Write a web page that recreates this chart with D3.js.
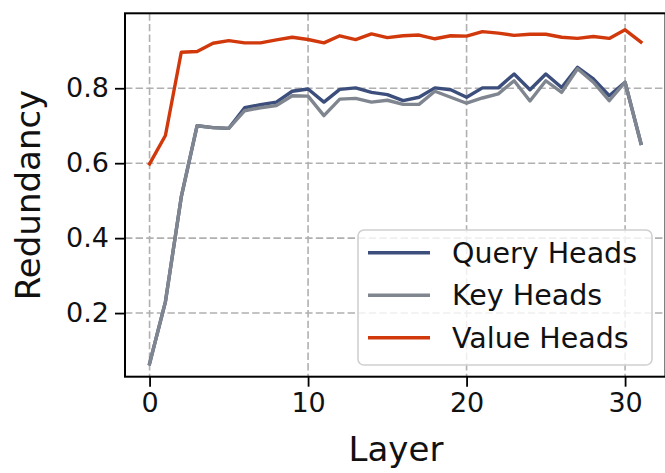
<!DOCTYPE html>
<html>
<head>
<meta charset="utf-8">
<script src="https://cdn.jsdelivr.net/npm/d3@7"></script>
<style>
  html, body { margin: 0; padding: 0; background: #fff; }
  svg { display: block; font-family: "DejaVu Sans", sans-serif; }
</style>
</head>
<body>
<svg id="chart" width="665" height="473"></svg>
<script>
// Per-layer redundancy of attention heads
const layers = d3.range(32);
const queryHeads = [0.065, 0.23, 0.51, 0.70, 0.695, 0.693, 0.748, 0.756, 0.763, 0.792, 0.798, 0.763, 0.797, 0.801, 0.789, 0.783,
                    0.767, 0.776, 0.801, 0.796, 0.776, 0.801, 0.801, 0.838, 0.796, 0.838, 0.802, 0.856, 0.825, 0.78, 0.816, 0.653];
const keyHeads   = [0.065, 0.23, 0.51, 0.70, 0.695, 0.693, 0.740, 0.748, 0.754, 0.780, 0.779, 0.727, 0.771, 0.773, 0.763, 0.768,
                    0.757, 0.757, 0.792, 0.776, 0.760, 0.774, 0.785, 0.820, 0.766, 0.820, 0.789, 0.852, 0.816, 0.767, 0.816, 0.653];
const valueHeads = [0.598, 0.674, 0.896, 0.898, 0.920, 0.927, 0.921, 0.921, 0.929, 0.936, 0.930, 0.921, 0.940, 0.930, 0.945, 0.935,
                    0.940, 0.942, 0.932, 0.940, 0.939, 0.951, 0.947, 0.941, 0.944, 0.944, 0.936, 0.933, 0.938, 0.933, 0.956, 0.923];
const seriesNames = ["Query Heads", "Key Heads", "Value Heads"];
const seriesColors = ["#3c4e7b", "#80868f", "#d1390c"];
const xTicks = [0, 10, 20, 30];
const yTicks = [0.2, 0.4, 0.6, 0.8];

const svg = d3.select("#chart");
const plotLeft = 125, plotRight = 665.5, plotTop = 13.3, plotBottom = 376.7;

const x = d3.scaleLinear().domain([-1.55, 32.55]).range([plotLeft, plotRight]);
const y = d3.scaleLinear().domain([0.0302, 1.0]).range([plotBottom, plotTop]);

// grid
const grid = svg.append("g").attr("stroke", "#b0b0b0").attr("stroke-width", 1.6)
  .attr("stroke-dasharray", "7.4,3.2");
grid.selectAll(".gx").data(xTicks).join("line")
  .attr("x1", d => x(d)).attr("x2", d => x(d)).attr("y1", plotTop).attr("y2", plotBottom);
grid.selectAll(".gy").data(yTicks).join("line")
  .attr("x1", plotLeft).attr("x2", plotRight).attr("y1", d => y(d)).attr("y2", d => y(d));

// lines
const line = d3.line().x((d, i) => x(layers[i])).y(d => y(d));
const allSeries = [queryHeads, keyHeads, valueHeads];
const plot = svg.append("g");
plot.append("clipPath").attr("id", "clip").append("rect")
  .attr("x", plotLeft).attr("y", plotTop).attr("width", plotRight - plotLeft).attr("height", plotBottom - plotTop);
plot.selectAll("path.series").data(allSeries).join("path")
  .attr("class", "series")
  .attr("clip-path", "url(#clip)")
  .attr("d", d => line(d))
  .attr("fill", "none")
  .attr("stroke", (d, i) => seriesColors[i])
  .attr("stroke-width", 3.4)
  .attr("stroke-linejoin", "round")
  .attr("stroke-linecap", "square");

// axes
const xAxis = svg.append("g").attr("transform", `translate(0,${plotBottom})`)
  .call(d3.axisBottom(x).tickValues(xTicks).tickFormat(d3.format("d")).tickSizeOuter(0).tickSize(10).tickPadding(6));
const yAxis = svg.append("g").attr("transform", `translate(${plotLeft},0)`)
  .call(d3.axisLeft(y).tickValues(yTicks).tickFormat(d3.format(".1f")).tickSizeOuter(0).tickSize(10).tickPadding(6));
[xAxis, yAxis].forEach(a => {
  a.select(".domain").remove();
  a.selectAll(".tick line").attr("stroke", "#000").attr("stroke-width", 1.8);
  a.selectAll(".tick text").attr("fill", "#111").style("font-size", "27px")
    .style("font-family", "DejaVu Sans, sans-serif");
});

// frame
svg.append("rect").attr("x", plotLeft).attr("y", plotTop)
  .attr("width", plotRight - plotLeft).attr("height", plotBottom - plotTop)
  .attr("fill", "none").attr("stroke", "#000").attr("stroke-width", 2);

// axis titles
svg.append("text").attr("x", 396).attr("y", 461)
  .attr("text-anchor", "middle").style("font-size", "34px").attr("fill", "#111").text("Layer");
svg.append("text").attr("transform", `translate(40,${(plotTop + plotBottom) / 2}) rotate(-90)`)
  .attr("text-anchor", "middle").style("font-size", "34px").attr("fill", "#111").text("Redundancy");

// legend
const lg = svg.append("g").attr("transform", "translate(358,230)");
lg.append("rect").attr("width", 294).attr("height", 135).attr("rx", 6)
  .attr("fill", "#fff").attr("fill-opacity", 0.8).attr("stroke", "#d0d0d0").attr("stroke-width", 1.6);
seriesNames.forEach((name, i) => {
  const yy = 22.7 + i * 42.5;
  lg.append("line").attr("x1", 10).attr("x2", 72).attr("y1", yy).attr("y2", yy)
    .attr("stroke", seriesColors[i]).attr("stroke-width", 3.4);
  lg.append("text").attr("x", 94).attr("y", yy).attr("dy", "0.36em")
    .style("font-size", "28.5px").attr("fill", "#111").text(name);
});
</script>
</body>
</html>
